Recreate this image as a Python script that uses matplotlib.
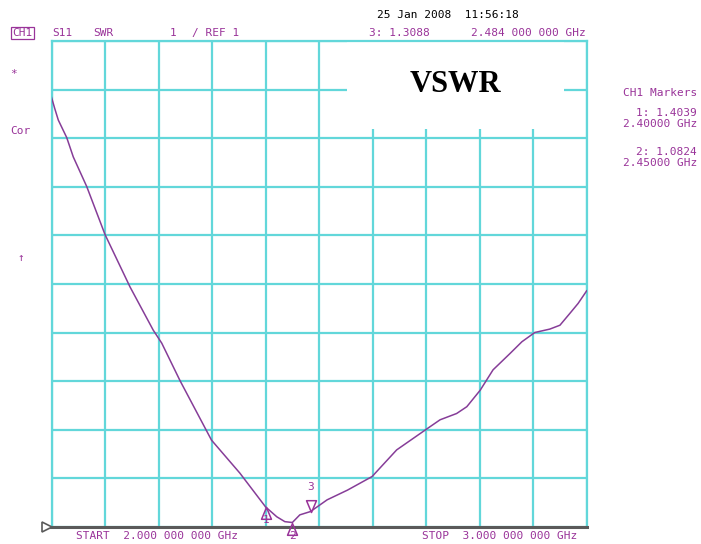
import numpy as np
import matplotlib.pyplot as plt
from matplotlib.patches import Rectangle
from matplotlib.path import Path

# S11 sweep, 2.0 - 3.0 GHz, SWR readings
freq_ghz = [2.000, 2.006, 2.0127, 2.0284, 2.0407, 2.0658, 2.100, 2.1467, 2.190,
            2.206, 2.240, 2.299, 2.352, 2.400, 2.421, 2.436, 2.450, 2.464,
            2.484, 2.515, 2.534, 2.553, 2.599, 2.645, 2.701, 2.726, 2.757,
            2.776, 2.801, 2.825, 2.857, 2.879, 2.903, 2.931, 2.950, 2.969,
            2.984, 3.000]
swr = [9.85, 9.62, 9.38, 9.02, 8.62, 8.01, 7.02, 5.94, 5.05,
       4.78, 4.01, 2.78, 2.10, 1.4039, 1.20, 1.10, 1.0824, 1.24,
       1.3088, 1.55, 1.65, 1.75, 2.03, 2.58, 3.01, 3.20, 3.33,
       3.47, 3.81, 4.23, 4.57, 4.81, 5.00, 5.07, 5.15, 5.40,
       5.60, 5.86]

marker_ids = ['1', '2', '3']
marker_freq = [2.40, 2.45, 2.484]
marker_swr = [1.4039, 1.0824, 1.3088]

start_ghz, stop_ghz = 2.0, 3.0
ref_level, per_div = 1, 1

PURPLE = '#993399'
TRACE = '#863d98'
GRIDC = '#62d7da'
MONO = 'DejaVu Sans Mono'

W, H = 701, 544
fig = plt.figure(figsize=(W / 100, H / 100), dpi=100)
ax = fig.add_axes([51.5 / W, (H - 526.5) / H, 535.2 / W, 485 / H])

ax.set_xlim(start_ghz, stop_ghz)
ax.set_ylim(ref_level, ref_level + 10 * per_div)
ax.set_xticks(np.linspace(start_ghz, stop_ghz, 11))
ax.set_yticks(np.arange(ref_level, ref_level + 11 * per_div, per_div))
ax.tick_params(length=0, labelbottom=False, labelleft=False)
ax.set_axisbelow(True)
ax.grid(True, color=GRIDC, lw=1.6)
for side in ['left', 'right', 'top']:
    ax.spines[side].set_color(GRIDC)
    ax.spines[side].set_linewidth(1.6)
ax.spines['bottom'].set_visible(False)

# reference line with the little reference arrow on the left
ax.plot([-0.008, 1.0], [0, 0], transform=ax.transAxes, color='#5a5a5a',
        lw=2.2, clip_on=False, zorder=4)
ax.plot([-0.008], [0], transform=ax.transAxes, marker='>', ms=7, mfc='white',
        mec='#5a5a5a', mew=1.2, clip_on=False, zorder=5)

# white title panel on the grid
ax.add_patch(Rectangle((2.552, 9.2), 0.406, 1.78, facecolor='white',
                       edgecolor='none', zorder=1.5))
ax.text(2.7555, 10.12, 'VSWR', family='Liberation Serif', weight='bold',
        fontsize=22, ha='center', va='center', color='black', zorder=2)

ax.plot(freq_ghz, swr, color=TRACE, lw=1.1, zorder=3)

# marker triangles with the tip on the trace
tri_up = Path([(0, 0), (-0.42, -1), (0.42, -1), (0, 0)],
              [Path.MOVETO, Path.LINETO, Path.LINETO, Path.CLOSEPOLY])
tri_dn = Path([(0, 0), (-0.42, 1), (0.42, 1), (0, 0)],
              [Path.MOVETO, Path.LINETO, Path.LINETO, Path.CLOSEPOLY])
for mid, mf, ms_ in zip(marker_ids, marker_freq, marker_swr):
    if mid == '3':
        ax.plot(mf, ms_, marker=tri_dn, ms=17, mfc='none', mec=PURPLE,
                mew=1.1, clip_on=False, zorder=4)
        ax.annotate(mid, (mf, ms_), xytext=(0, 18), textcoords='offset points',
                    ha='center', va='center', family=MONO, fontsize=8,
                    color=PURPLE, annotation_clip=False)
    else:
        ax.plot(mf, ms_, marker=tri_up, ms=17, mfc='none', mec=PURPLE,
                mew=1.1, clip_on=False, zorder=4)
        ax.annotate(mid, (mf, ms_), xytext=(0, -9.5), textcoords='offset points',
                    ha='center', va='center', family=MONO, fontsize=8,
                    color=PURPLE, annotation_clip=False)


def ftext(x, y, s, **kw):
    kw.setdefault('family', MONO)
    kw.setdefault('fontsize', 8)
    kw.setdefault('color', PURPLE)
    kw.setdefault('va', 'center')
    fig.text(x / W, 1 - y / H, s, **kw)


ftext(377, 15, '25 Jan 2008  11:56:18', color='black')
ftext(12, 33, 'CH1', bbox=dict(boxstyle='square,pad=0.12', fc='none',
                               ec=PURPLE, lw=0.9))
ftext(52, 33, 'S11')
ftext(93, 33, 'SWR')
ftext(170, 33, '%d' % per_div)
ftext(192, 33, '/ REF %d' % ref_level)
ftext(369, 33, '3: %.4f' % marker_swr[2])
ftext(586, 33, '%.3f 000 000 GHz' % marker_freq[2], ha='right')

ftext(697, 93, 'CH1 Markers', ha='right')
ftext(697, 113, '1: %.4f' % marker_swr[0], ha='right')
ftext(697, 124, '%.5f GHz' % marker_freq[0], ha='right')
ftext(697, 152, '2: %.4f' % marker_swr[1], ha='right')
ftext(697, 163, '%.5f GHz' % marker_freq[1], ha='right')

ftext(10, 74, '*', ha='left')
ftext(10, 131, 'Cor')
ftext(17, 258, '\u2191')

ftext(76, 536, 'START  %.3f 000 000 GHz' % start_ghz)
ftext(422, 536, 'STOP  %.3f 000 000 GHz' % stop_ghz)

fig.savefig('out.png', dpi=100)
